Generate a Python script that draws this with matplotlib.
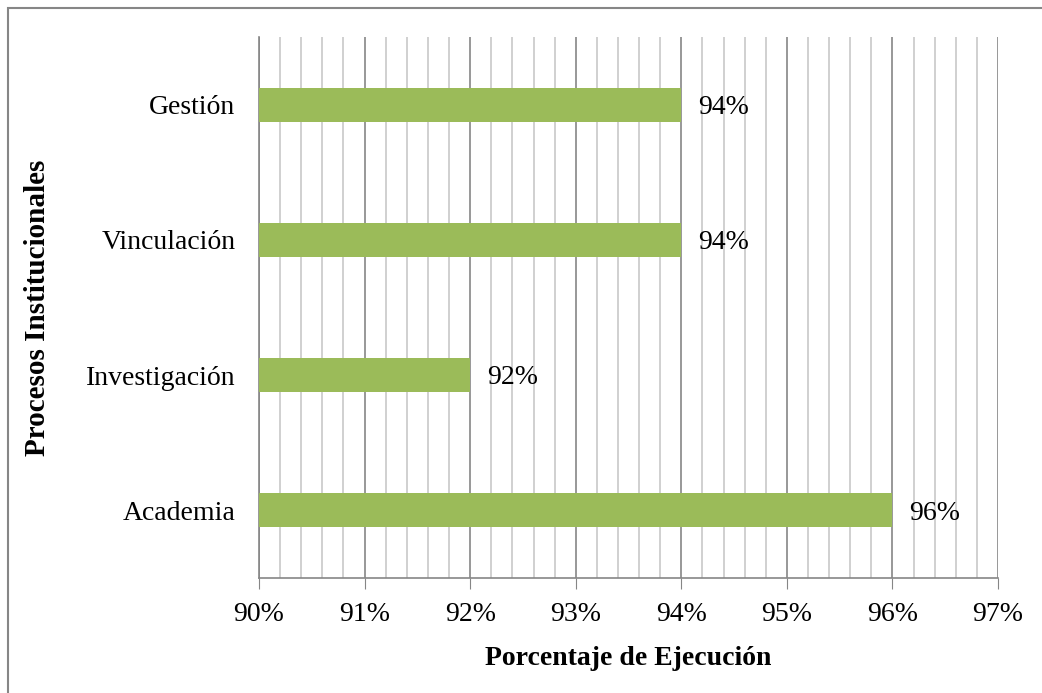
import matplotlib
matplotlib.use("Agg")
import matplotlib.pyplot as plt
from matplotlib.patches import Rectangle
from matplotlib.ticker import MultipleLocator, FuncFormatter

# --- Data ---
procesos = ["Academia", "Investigación", "Vinculación", "Gestión"]
ejecucion = [0.96, 0.92, 0.94, 0.94]
etiquetas = ["96%", "92%", "94%", "94%"]

BAR_COLOR = "#9BBB59"
MAJOR_GRID = "#868686"
MINOR_GRID = "#C8C8C8"
FONT = ["Liberation Serif", "DejaVu Serif"]
FS = 20

plt.rcParams["font.family"] = FONT

fig = plt.figure(figsize=(10.42, 6.93), dpi=100)
ax = fig.add_axes([0.2486, 0.166, 0.9578 - 0.2486, 0.9466 - 0.166])

# outer chart border
fig.patches.append(Rectangle((8 / 1042, -0.01), 1.05, 1 - 8 / 693 + 0.01,
                             transform=fig.transFigure, fill=False,
                             edgecolor="#868686", linewidth=1.5))

y = range(len(procesos))
ax.barh(y, ejecucion, height=0.25, color=BAR_COLOR, zorder=3)

for i, (v, lab) in enumerate(zip(ejecucion, etiquetas)):
    ax.text(v + 0.0016, i - 0.02, lab, va="center", ha="left", fontsize=FS, zorder=4)

ax.set_xlim(0.90, 0.97)
ax.set_ylim(-0.5, len(procesos) - 0.5)
ax.xaxis.set_major_locator(MultipleLocator(0.01))
ax.xaxis.set_minor_locator(MultipleLocator(0.002))
ax.xaxis.set_major_formatter(FuncFormatter(lambda v, _: f"{round(v * 100)}%"))

ax.grid(axis="x", which="major", color=MAJOR_GRID, linewidth=1.2, zorder=1)
ax.grid(axis="x", which="minor", color=MINOR_GRID, linewidth=1.2, zorder=1)

ax.set_yticks(list(y))
ax.set_yticklabels(procesos, fontsize=FS)
ax.tick_params(axis="y", length=0, pad=17)
ax.tick_params(axis="x", which="major", length=8, color=MAJOR_GRID,
               labelsize=FS, pad=9)
ax.tick_params(axis="x", which="minor", length=0)

for s in ["top", "right"]:
    ax.spines[s].set_visible(False)
ax.spines["left"].set_color(MAJOR_GRID)
ax.spines["bottom"].set_color(MAJOR_GRID)
ax.spines["left"].set_linewidth(1.2)
ax.spines["bottom"].set_linewidth(1.2)

ax.set_xlabel("Porcentaje de Ejecución", fontsize=FS, fontweight="bold",
              labelpad=14)
ax.set_ylabel("Procesos Institucionales", fontsize=21, fontweight="bold")
ax.yaxis.set_label_coords(-0.282, 0.5)

fig.savefig("out.png", dpi=100)
